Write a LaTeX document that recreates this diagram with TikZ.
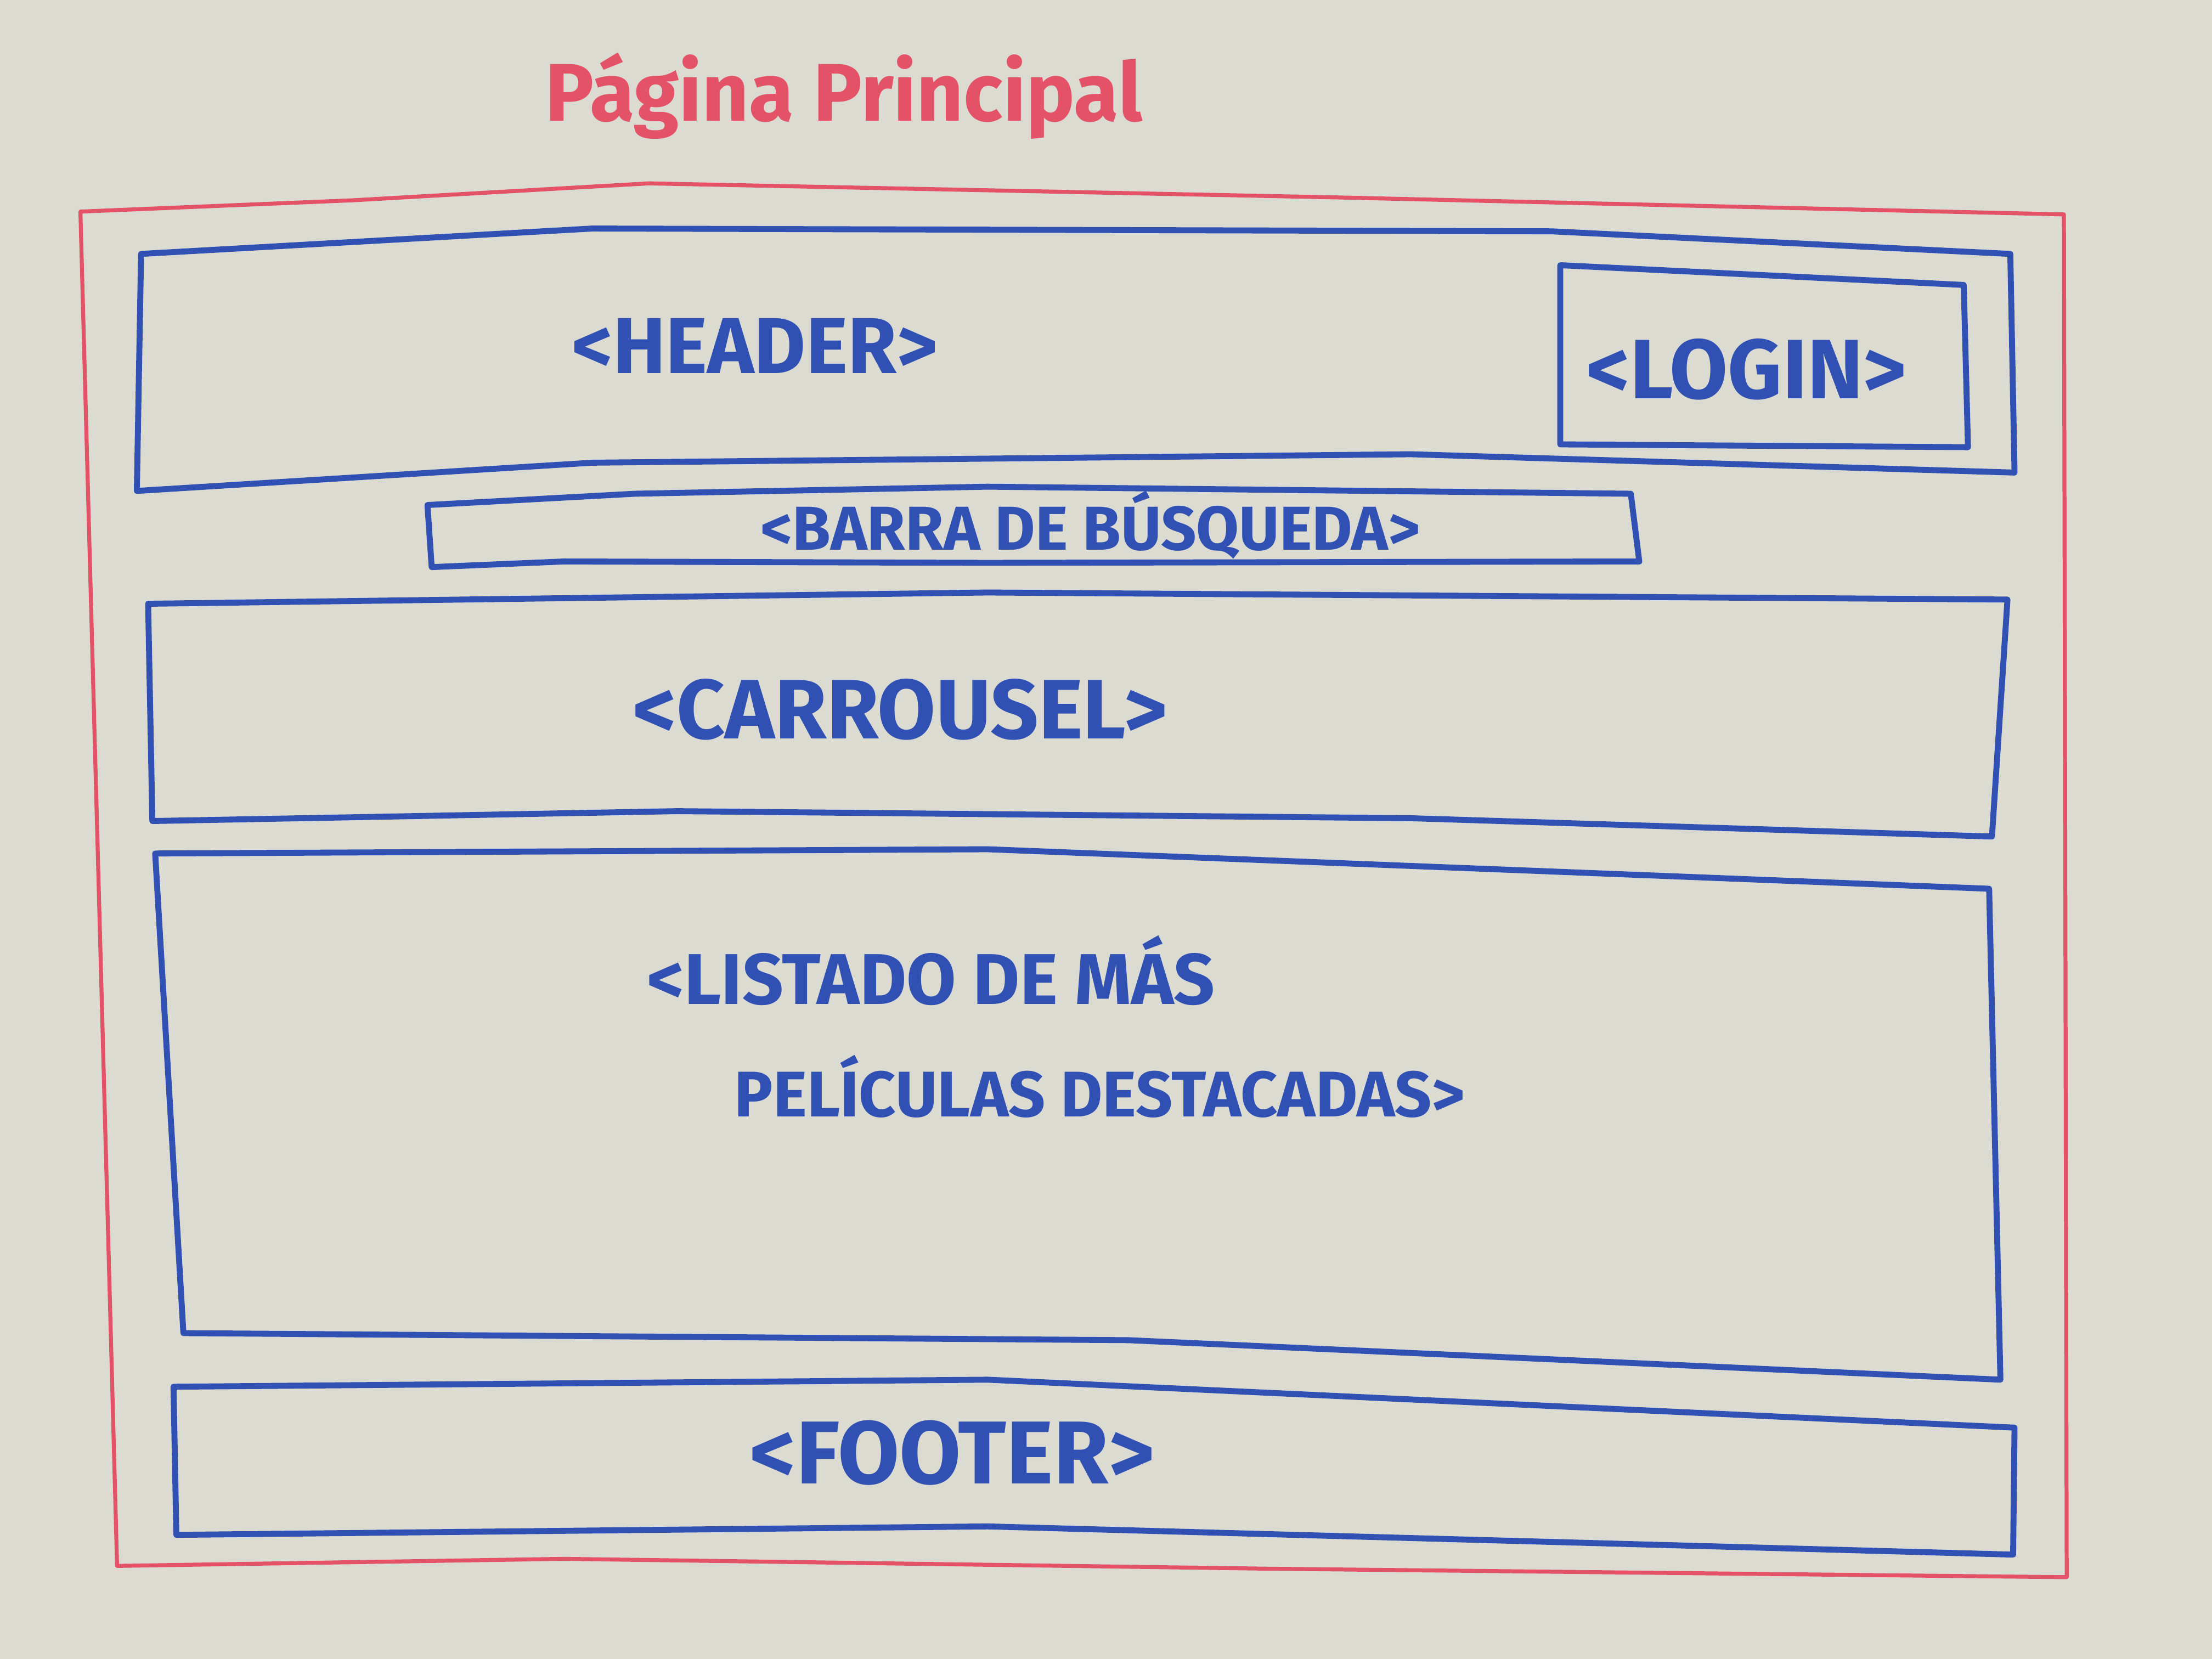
\documentclass[tikz,border=0pt]{standalone}
\usepackage{fontspec}
\usepackage{tikz}
\newfontfamily\markerfont{Fira Sans}
\definecolor{board}{RGB}{219,219,209}
\definecolor{markerblue}{RGB}{48,80,180}
\definecolor{markerred}{RGB}{228,82,104}

\begin{document}
\begin{tikzpicture}[x=1cm, y=-1cm, line cap=round, line join=round,
	bluebox/.style={draw=markerblue, line width=1.2pt},
	redbox/.style={draw=markerred, line width=0.8pt},
	label/.style={text=markerblue, inner sep=0pt}]
	\fill[board] (0,0) rectangle (15.68,11.76);
	\useasboundingbox (0,0) rectangle (15.68,11.76);
	% page frame
	\draw[redbox] (0.57,1.50) -- (2.50,1.42) -- (4.60,1.30) -- (9.50,1.40) -- (14.63,1.52)
		-- (14.65,11.18) -- (9.00,11.12) -- (4.00,11.05) -- (0.83,11.10) -- cycle;
	\node[text=markerred, font=\markerfont\bfseries\fontsize{16.5}{20}\selectfont, inner sep=0pt] (title) at (5.98,0.68) {Página Principal};
	% header + login
	\draw[bluebox] (1.00,1.80) -- (4.20,1.62) -- (11.00,1.64) -- (14.25,1.80)
		-- (14.28,3.35) -- (10.00,3.22) -- (4.20,3.28) -- (0.97,3.48) -- cycle;
	\draw[bluebox] (11.06,1.88) -- (13.92,2.02) -- (13.95,3.17) -- (11.06,3.15) -- cycle;
	\node[label, font=\markerfont\bfseries\fontsize{16}{20}\selectfont] (header) at (5.35,2.45) {<HEADER>};
	\node[label, font=\markerfont\bfseries\fontsize{17}{20}\selectfont] (login) at (12.38,2.62) {<LOGIN>};
	% search bar
	\draw[bluebox] (3.03,3.58) -- (4.50,3.50) -- (7.00,3.45) -- (11.56,3.50)
		-- (11.62,3.98) -- (7.00,3.99) -- (4.00,3.98) -- (3.06,4.02) -- cycle;
	\node[label, anchor=base, font=\markerfont\bfseries\fontsize{12.5}{14}\selectfont] (search) at (7.73,3.90) {<BARRA DE BÚSQUEDA>};
	% carrousel
	\draw[bluebox] (1.05,4.28) -- (7.00,4.20) -- (14.23,4.25)
		-- (14.12,5.93) -- (10.00,5.80) -- (4.80,5.75) -- (1.08,5.82) -- cycle;
	\node[label, font=\markerfont\bfseries\fontsize{17}{20}\selectfont] (carrousel) at (6.38,5.03) {<CARROUSEL>};
	% featured list
	\draw[bluebox] (1.10,6.05) -- (7.00,6.02) -- (14.10,6.30)
		-- (14.18,9.78) -- (8.00,9.50) -- (1.30,9.45) -- cycle;
	\node[label, anchor=west, font=\markerfont\bfseries\fontsize{14.5}{16}\selectfont] (list1) at (4.58,6.88) {<LISTADO DE MÁS};
	\node[label, anchor=west, font=\markerfont\bfseries\fontsize{13}{16}\selectfont] (list2) at (5.20,7.70) {PELÍCULAS DESTACADAS>};
	% footer
	\draw[bluebox] (1.23,9.83) -- (7.00,9.78) -- (14.28,10.12)
		-- (14.27,11.02) -- (7.00,10.82) -- (1.25,10.88) -- cycle;
	\node[label, font=\markerfont\bfseries\fontsize{18}{20}\selectfont] (footer) at (6.75,10.30) {<FOOTER>};
\end{tikzpicture}
\end{document}
